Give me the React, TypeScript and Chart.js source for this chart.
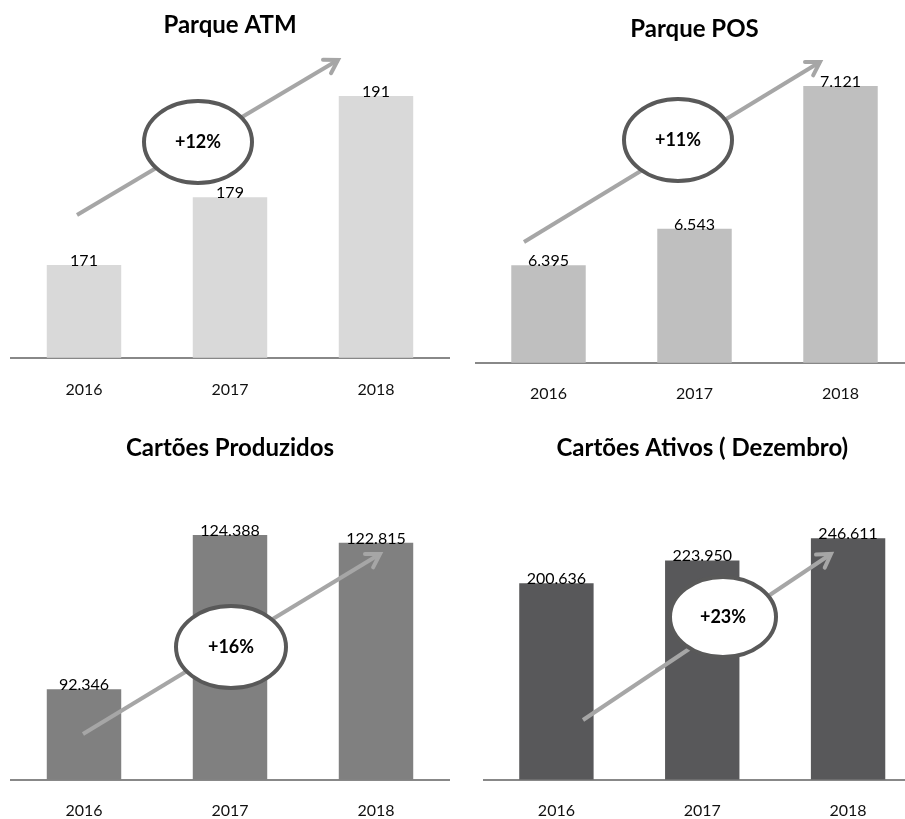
import React, { useEffect, useRef } from "react";
import { Chart, registerables } from "chart.js";

Chart.register(...registerables);

const years = ["2016", "2017", "2018"];
const atmValues = [171, 179, 191];
const posValues = [6395, 6543, 7121];
const producedValues = [92346, 124388, 122815];
const activeValues = [200636, 223950, 246611];
const growthLabels = ["+12%", "+11%", "+16%", "+23%"];
const titles = ["Parque ATM", "Parque POS", "Cartões Produzidos", "Cartões Ativos ( Dezembro)"];

const FONT = "Lato, 'Open Sans', sans-serif";

const fmt = (v: number) => String(v).replace(/\B(?=(\d{3})+(?!\d))/g, ".");

type Spec = {
  title: string;
  values: number[];
  color: string;
  min: number;
  max: number;
  left: number;
  top: number;
  width: number;
  height: number;
  pad: { left: number; right: number; top: number; bottom: number };
  tickPad: number;
  titleY: number;
  arrow: [number, number, number, number];
  ellipse: [number, number, number, number];
  growth: string;
};

const specs: Spec[] = [
  {
    title: titles[0],
    values: atmValues,
    color: "#d9d9d9",
    min: 160,
    max: 196.44,
    left: 0,
    top: 0,
    width: 452,
    height: 430,
    pad: { left: 11, right: 3, top: 50, bottom: 9 },
    tickPad: 22,
    titleY: 25,
    arrow: [77, 215, 338, 60],
    ellipse: [198, 142, 54, 41],
    growth: growthLabels[0],
  },
  {
    title: titles[1],
    values: posValues,
    color: "#bfbfbf",
    min: 6000,
    max: 7266.7,
    left: 452,
    top: 0,
    width: 470,
    height: 430,
    pad: { left: 23.5, right: 8.5, top: 50, bottom: 6 },
    tickPad: 21,
    titleY: 29,
    arrow: [72, 242, 368, 62],
    ellipse: [226, 140, 54, 41],
    growth: growthLabels[1],
  },
  {
    title: titles[2],
    values: producedValues,
    color: "#808080",
    min: 73500,
    max: 140000,
    left: 0,
    top: 410,
    width: 452,
    height: 432,
    pad: { left: 11, right: 3, top: 50, bottom: 1 },
    tickPad: 21,
    titleY: 38,
    arrow: [83, 324, 380, 144],
    ellipse: [231, 237, 55, 41],
    growth: growthLabels[2],
  },
  {
    title: titles[3],
    values: activeValues,
    color: "#58585a",
    min: 0,
    max: 326500,
    left: 452,
    top: 410,
    width: 470,
    height: 432,
    pad: { left: 31.5, right: 1, top: 50, bottom: 1 },
    tickPad: 21,
    titleY: 38,
    arrow: [131, 310, 379, 144],
    ellipse: [271, 207, 53, 40],
    growth: growthLabels[3],
  },
];

function makePlugin(spec: Spec) {
  return {
    id: "decor",
    afterDatasetsDraw(chart: any) {
      const ctx = chart.ctx as CanvasRenderingContext2D;
      const area = chart.chartArea;
      ctx.save();
      // title
      ctx.font = `bold 24px ${FONT}`;
      ctx.fillStyle = "#000";
      ctx.textAlign = "center";
      ctx.textBaseline = "middle";
      ctx.fillText(spec.title, (area.left + area.right) / 2, spec.titleY);

      // arrow
      const [x1, y1, x2, y2] = spec.arrow;
      ctx.strokeStyle = "#a6a6a6";
      ctx.lineWidth = 4;
      ctx.lineCap = "butt";
      ctx.beginPath();
      ctx.moveTo(x1, y1);
      ctx.lineTo(x2, y2);
      ctx.stroke();
      const ang = Math.atan2(y2 - y1, x2 - x1);
      const head = 15;
      ctx.lineCap = "round";
      ctx.lineJoin = "miter";
      ctx.beginPath();
      ctx.moveTo(x2 - head * Math.cos(ang - 0.55), y2 - head * Math.sin(ang - 0.55));
      ctx.lineTo(x2, y2);
      ctx.lineTo(x2 - head * Math.cos(ang + 0.55), y2 - head * Math.sin(ang + 0.55));
      ctx.stroke();

      // ellipse
      const [ex, ey, rx, ry] = spec.ellipse;
      ctx.beginPath();
      ctx.ellipse(ex, ey, rx, ry, 0, 0, Math.PI * 2);
      ctx.fillStyle = "#ffffff";
      ctx.fill();
      ctx.strokeStyle = "#595959";
      ctx.lineWidth = 4;
      ctx.stroke();
      ctx.font = `bold 18px ${FONT}`;
      ctx.fillStyle = "#000";
      ctx.textBaseline = "middle";
      ctx.fillText(spec.growth, ex, ey);

      // value labels
      ctx.font = `16px ${FONT}`;
      ctx.fillStyle = "#000";
      ctx.textBaseline = "alphabetic";
      const meta = chart.getDatasetMeta(0);
      meta.data.forEach((bar: any, i: number) => {
        ctx.fillText(fmt(spec.values[i]), bar.x, bar.y + 1);
      });
      ctx.restore();
    },
  };
}

function BarPanel({ spec }: { spec: Spec }) {
  const ref = useRef<HTMLCanvasElement | null>(null);
  useEffect(() => {
    if (!ref.current) return;
    const chart = new Chart(ref.current, {
      type: "bar",
      data: {
        labels: years,
        datasets: [
          {
            data: spec.values,
            backgroundColor: spec.color,
            borderWidth: 0,
            barPercentage: 0.51,
            categoryPercentage: 1,
          },
        ],
      },
      options: {
        responsive: false,
        animation: false,
        devicePixelRatio: 1,
        layout: { padding: spec.pad },
        plugins: {
          legend: { display: false },
          tooltip: { enabled: false },
          title: { display: false },
        },
        scales: {
          x: {
            grid: { display: false, drawTicks: false },
            border: { display: true, color: "#888888", width: 2 },
            ticks: {
              font: { family: FONT, size: 16 },
              color: "#111111",
              padding: spec.tickPad,
            },
          },
          y: {
            display: false,
            min: spec.min,
            max: spec.max,
          },
        },
      },
      plugins: [makePlugin(spec)],
    });
    return () => chart.destroy();
  }, [spec]);
  return (
    <canvas
      ref={ref}
      width={spec.width}
      height={spec.height}
      style={{ position: "absolute", left: spec.left, top: spec.top, width: spec.width, height: spec.height }}
    />
  );
}

export default function App() {
  return (
    <div
      style={{
        position: "fixed",
        left: 0,
        top: 0,
        width: 905,
        height: 819,
        overflow: "hidden",
        background: "#ffffff",
      }}
    >
      {specs.map((s, i) => (
        <BarPanel key={i} spec={s} />
      ))}
    </div>
  );
}
